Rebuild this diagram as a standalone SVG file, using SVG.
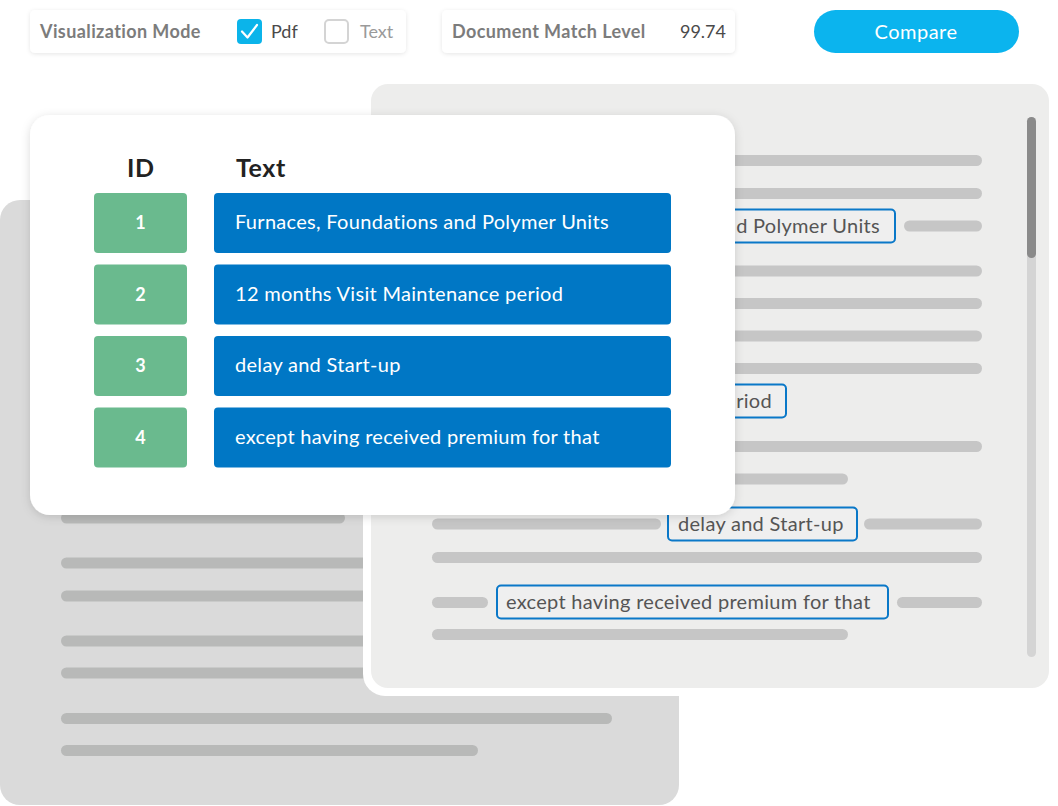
<svg xmlns="http://www.w3.org/2000/svg" width="1058" height="806" viewBox="0 0 1058 806">
<defs>
<filter id="sh" x="-10%" y="-10%" width="120%" height="130%">
<feDropShadow dx="0" dy="2" stdDeviation="5" flood-color="#000" flood-opacity="0.14"/>
</filter>
<filter id="shs" x="-10%" y="-30%" width="120%" height="160%">
<feDropShadow dx="0" dy="1" stdDeviation="2" flood-color="#000" flood-opacity="0.10"/>
</filter>
</defs>
<style>
text{font-family:Lato,"Noto Sans",sans-serif}
.lbl{font-size:18px;font-weight:700;fill:#7c7c7c;letter-spacing:0.4px}
.val{font-size:18px;fill:#4a4a4a}
.ll{fill:#b8b9b8}
.rl{fill:#c6c6c6}
.hl{fill:#efefef;stroke:#0a78c8;stroke-width:2}
.ht{font-size:20px;fill:#555555;letter-spacing:0.3px}
.idb{fill:#6aba8e}
.idt{font-size:18px;font-weight:700;fill:#ffffff;text-anchor:middle}
.txb{fill:#0077c5}
.txt{font-size:20px;fill:#ffffff;letter-spacing:0.3px}
.hd{font-size:25px;font-weight:700;fill:#222222;letter-spacing:0.6px}
</style>

<g id="left-doc">
<rect x="0" y="200" width="679" height="605" rx="20" fill="#dadada"/>
<rect class="ll" x="61" y="512.5" width="284" height="11" rx="5.5"/>
<rect class="ll" x="61" y="557.5" width="400" height="11" rx="5.5"/>
<rect class="ll" x="61" y="590.5" width="400" height="11" rx="5.5"/>
<rect class="ll" x="61" y="635.5" width="400" height="11" rx="5.5"/>
<rect class="ll" x="61" y="667.5" width="400" height="11" rx="5.5"/>
<rect class="ll" x="61" y="713" width="551" height="11" rx="5.5"/>
<rect class="ll" x="61" y="745" width="417" height="11" rx="5.5"/>
</g>

<g id="right-doc">
<rect x="363" y="84" width="686" height="612" rx="22" fill="#ffffff"/>
<rect x="371" y="84" width="678" height="604" rx="17" fill="#ededec"/>
<rect x="1027" y="117" width="9" height="540" rx="4.5" fill="#d4d4d4"/>
<rect x="1027" y="117" width="9" height="141" rx="4.5" fill="#8a8a8a"/>
<rect class="rl" x="432" y="155" width="550" height="11" rx="5.5"/>
<rect class="rl" x="432" y="188" width="550" height="11" rx="5.5"/>
<rect class="rl" x="904" y="220.5" width="78" height="11" rx="5.5"/>
<rect class="rl" x="432" y="265.5" width="550" height="11" rx="5.5"/>
<rect class="rl" x="432" y="298" width="550" height="11" rx="5.5"/>
<rect class="rl" x="432" y="330.5" width="550" height="11" rx="5.5"/>
<rect class="rl" x="432" y="363" width="550" height="11" rx="5.5"/>
<rect class="rl" x="432" y="441" width="550" height="11" rx="5.5"/>
<rect class="rl" x="432" y="473.5" width="416" height="11" rx="5.5"/>
<rect class="rl" x="432" y="518.5" width="229" height="11" rx="5.5"/>
<rect class="rl" x="864" y="518.5" width="118" height="11" rx="5.5"/>
<rect class="rl" x="432" y="552" width="550" height="11" rx="5.5"/>
<rect class="rl" x="432" y="597" width="56" height="11" rx="5.5"/>
<rect class="rl" x="897" y="597" width="85" height="11" rx="5.5"/>
<rect class="rl" x="432" y="629" width="416" height="11" rx="5.5"/>
<g id="hl1"><rect class="hl" x="496" y="209.5" width="399" height="33" rx="4"/><text class="ht" x="880" y="233" text-anchor="end">d Polymer Units</text></g>
<g id="hl2"><rect class="hl" x="436" y="384.5" width="350" height="33" rx="4"/><text class="ht" x="772" y="408" text-anchor="end">riod</text></g>
<g id="hl3"><rect class="hl" x="668" y="507.5" width="189" height="33" rx="4"/><text class="ht" x="678" y="531">delay and Start-up</text></g>
<g id="hl4"><rect class="hl" x="497" y="585.5" width="391" height="33" rx="4"/><text class="ht" x="506" y="609">except having received premium for that</text></g>
</g>

<g id="table-card">
<rect x="30" y="115" width="705" height="400" rx="20" fill="#ffffff" filter="url(#sh)"/>
<text class="hd" x="127" y="177">ID</text>
<text class="hd" x="236" y="177">Text</text>
<g id="row1"><rect class="idb" x="94" y="193" width="93" height="60" rx="4"/><text class="idt" x="140.5" y="229">1</text><rect class="txb" x="214" y="193" width="457" height="60" rx="4"/><text class="txt" x="235" y="229">Furnaces, Foundations and Polymer Units</text></g>
<g id="row2"><rect class="idb" x="94" y="264.5" width="93" height="60" rx="4"/><text class="idt" x="140.5" y="300.5">2</text><rect class="txb" x="214" y="264.5" width="457" height="60" rx="4"/><text class="txt" x="235" y="300.5">12 months Visit Maintenance period</text></g>
<g id="row3"><rect class="idb" x="94" y="336" width="93" height="60" rx="4"/><text class="idt" x="140.5" y="372">3</text><rect class="txb" x="214" y="336" width="457" height="60" rx="4"/><text class="txt" x="235" y="372">delay and Start-up</text></g>
<g id="row4"><rect class="idb" x="94" y="407.5" width="93" height="60" rx="4"/><text class="idt" x="140.5" y="443.5">4</text><rect class="txb" x="214" y="407.5" width="457" height="60" rx="4"/><text class="txt" x="235" y="443.5">except having received premium for that</text></g>
</g>

<g id="mode-card">
<rect x="30" y="10" width="376" height="43" rx="5" fill="#ffffff" filter="url(#shs)"/>
<text class="lbl" x="40" y="38">Visualization Mode</text>
<rect x="237" y="19" width="25" height="25" rx="4" fill="#0bb4ea"/>
<path d="M242 31.5 L247.5 37.5 L257 25" fill="none" stroke="#ffffff" stroke-width="2.2" stroke-linecap="round" stroke-linejoin="round"/>
<text class="val" x="271" y="38">Pdf</text>
<rect x="325" y="20" width="23" height="23" rx="4" fill="#ffffff" stroke="#d4d4d4" stroke-width="2"/>
<text class="val" x="360" y="38" style="fill:#9a9a9a">Text</text>
</g>

<g id="match-card">
<rect x="442" y="10" width="293" height="43" rx="5" fill="#ffffff" filter="url(#shs)"/>
<text class="lbl" x="452" y="38">Document Match Level</text>
<text class="val" x="726" y="38" text-anchor="end">99.74</text>
</g>

<g id="compare-btn">
<rect x="814" y="10" width="205" height="43" rx="21.5" fill="#0bb4ee"/>
<text x="916" y="39" text-anchor="middle" style="font-size:20px;fill:#ffffff;letter-spacing:0.5px">Compare</text>
</g>
</svg>
